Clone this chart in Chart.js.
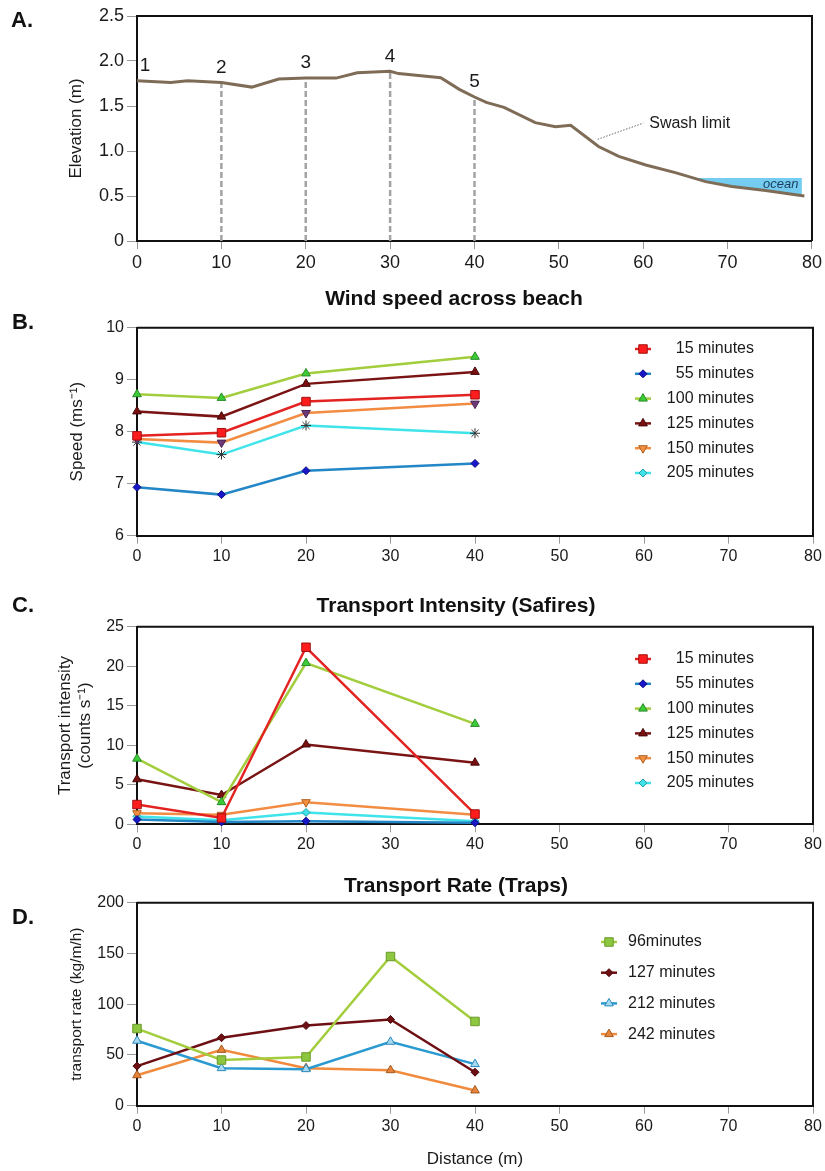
<!DOCTYPE html>
<html>
<head>
<meta charset="utf-8">
<script src="https://cdn.jsdelivr.net/npm/chart.js@4.4.1/dist/chart.umd.min.js"></script>
<style>
  body { margin: 0; background: #fff; }
  #wrap { position: relative; width: 825px; height: 1171px; }
  canvas { position: absolute; left: 0; }
</style>
</head>
<body>
<div id="wrap">
  <canvas id="chartA" width="825" height="280" style="top:0px"></canvas>
  <canvas id="chartB" width="825" height="290" style="top:280px"></canvas>
  <canvas id="chartC" width="825" height="278" style="top:580px"></canvas>
  <canvas id="chartD" width="825" height="301" style="top:870px"></canvas>
</div>
<script>
// Panel A - beach profile
const profileX = [0, 4, 6, 10, 13.6, 16.8, 20, 23.6, 26.1, 30, 31, 36, 38.2, 40, 41.4, 43.5, 47.2, 49.6, 51.4, 54.7, 57.1, 60.3, 63.8, 67.4, 70.5, 74.5, 79.1];
const profileY = [1.78, 1.76, 1.78, 1.76, 1.71, 1.80, 1.81, 1.81, 1.87, 1.885, 1.86, 1.815, 1.685, 1.60, 1.54, 1.485, 1.315, 1.27, 1.285, 1.05, 0.94, 0.845, 0.76, 0.66, 0.605, 0.56, 0.50];
const stationX = [0, 10, 20, 30, 40];
const stationY = [1.78, 1.76, 1.81, 1.885, 1.60];
const stationLabels = ['1', '2', '3', '4', '5'];
const oceanX = [66.2, 78.8];
const oceanLevel = 0.70;
const oceanEdgeY = 0.51;

// Panel B - wind speed
const windX = [0, 10, 20, 40];
const wind15 = [7.92, 7.98, 8.58, 8.71];
const wind55 = [6.93, 6.79, 7.25, 7.39];
const wind100 = [8.72, 8.65, 9.12, 9.44];
const wind125 = [8.39, 8.29, 8.92, 9.15];
const wind150 = [7.86, 7.79, 8.36, 8.54];
const wind205 = [7.80, 7.56, 8.12, 7.97];

// Panel C - transport intensity (safires)
const safX = [0, 10, 20, 40];
const saf15 = [2.5, 0.8, 22.4, 1.3];
const saf55 = [0.6, 0.3, 0.4, 0.2];
const saf100 = [8.3, 2.8, 20.4, 12.7];
const saf125 = [5.7, 3.7, 10.1, 7.8];
const saf150 = [1.4, 1.2, 2.8, 1.2];
const saf205 = [1.0, 0.5, 1.5, 0.4];
const minuteLabels = ['15 minutes', '55 minutes', '100 minutes', '125 minutes', '150 minutes', '205 minutes'];

// Panel D - transport rate (traps)
const trapX = [0, 10, 20, 30, 40];
const trap96 = [76, 45, 48, 147, 83];
const trap127 = [39, 67, 79, 85, 33];
const trap212 = [64, 37, 36, 63, 41];
const trap242 = [30, 55, 37, 35, 15];
const trapLabels = ['96minutes', '127 minutes', '212 minutes', '242 minutes'];

const FONT = "'Liberation Sans', Arial, sans-serif";
Chart.defaults.font.family = FONT;
Chart.defaults.color = '#1a1a1a';
Chart.defaults.animation = false;

const xy = (xs, ys) => xs.map((x, i) => ({ x: x, y: ys[i] }));

// estilos de series
const minuteStyles = [
  { line: '#e32322', fill: '#ff1c1c', border: '#a01010', style: 'rect', radius: 6 },
  { line: '#2386c6', fill: '#1818c8', border: '#0c0c80', style: 'rectRot', radius: 4 },
  { line: '#a2cd3c', fill: '#3ccc36', border: '#2a8a2a', style: 'triangle', radius: 5 },
  { line: '#7a1414', fill: '#7a1010', border: '#450808', style: 'triangle', radius: 5 },
  { line: '#f28c42', fill: '#f29040', border: '#b06020', style: 'triangle', rotation: 180, radius: 5 },
  { line: '#3fe3ea', fill: '#40e0e8', border: '#20a0a8', style: 'rectRot', radius: 4 }
];
const windMarkers = minuteStyles.map((s, i) => {
  if (i === 4) return Object.assign({}, s, { fill: '#6c3a78', border: '#4a2050' });
  if (i === 5) return Object.assign({}, s, { fill: '#444', border: '#333', style: 'star', radius: 5 });
  return s;
});
const trapStyles = [
  { line: '#a2cd3c', fill: '#8dc63f', border: '#6a9a2a', style: 'rect', radius: 6 },
  { line: '#6e0f14', fill: '#6e0f14', border: '#4a0808', style: 'rectRot', radius: 4 },
  { line: '#2a9ad0', fill: '#a6d8f2', border: '#2a8ab8', style: 'triangle', radius: 5 },
  { line: '#f08a3c', fill: '#e8843a', border: '#a05a20', style: 'triangle', radius: 5 }
];

function series(xs, ys, st) {
  return {
    data: xy(xs, ys),
    borderColor: st.line, borderWidth: 2.5,
    pointStyle: st.style, pointRadius: st.radius, pointRotation: st.rotation || 0,
    pointBackgroundColor: st.fill, pointBorderColor: st.border, pointBorderWidth: 1,
    tension: 0, fill: false, clip: false
  };
}

function xAxis(tickSize, height, title) {
  return {
    type: 'linear', min: 0, max: 80,
    ticks: { stepSize: 10, font: { size: tickSize }, padding: 3, maxRotation: 0, autoSkip: false },
    grid: { drawOnChartArea: false, drawTicks: true, tickLength: 8, color: '#9a9a9a' },
    border: { color: '#111', width: 2 },
    title: title || { display: false },
    afterFit: s => { s.height = height; }
  };
}

function yAxis(min, max, step, tickSize, title, fmt) {
  return {
    min: min, max: max,
    ticks: { stepSize: step, font: { size: tickSize }, padding: 3, callback: fmt || (v => v) },
    grid: { drawOnChartArea: false, drawTicks: true, tickLength: 10, color: '#9a9a9a' },
    border: { color: '#111', width: 2 },
    title: title,
    afterFit: s => { s.width = 137; }
  };
}

function frame(chart) {
  const a = chart.chartArea, ctx = chart.ctx;
  ctx.save();
  ctx.strokeStyle = '#111';
  ctx.lineWidth = 2;
  ctx.beginPath();
  ctx.moveTo(a.left, a.top);
  ctx.lineTo(a.right, a.top);
  ctx.lineTo(a.right, a.bottom);
  ctx.stroke();
  ctx.restore();
}

function label(ctx, str, x, y, font, align, color) {
  ctx.save();
  ctx.font = font;
  ctx.fillStyle = color || '#1a1a1a';
  ctx.textAlign = align || 'left';
  ctx.textBaseline = 'middle';
  ctx.fillText(str, x, y);
  ctx.restore();
}

function drawLegend(ctx, labels, styles, cfg) {
  labels.forEach((txt, i) => {
    const st = styles[i];
    const y = cfg.y0 + i * cfg.dy;
    ctx.save();
    ctx.strokeStyle = st.line;
    ctx.lineWidth = 2.5;
    ctx.beginPath();
    ctx.moveTo(cfg.mx - 8, y);
    ctx.lineTo(cfg.mx + 8, y);
    ctx.stroke();
    ctx.fillStyle = st.fill;
    ctx.strokeStyle = st.border;
    ctx.lineWidth = 1;
    Chart.helpers.drawPoint(ctx, { pointStyle: st.style, radius: st.radius, rotation: st.rotation || 0, borderWidth: 1 }, cfg.mx, y);
    ctx.restore();
    label(ctx, txt, cfg.tx, y, '16px ' + FONT, cfg.align);
  });
}

const baseOptions = (pad, scales) => ({
  responsive: false,
  layout: { padding: { top: pad, right: 12, left: 0, bottom: 0 } },
  scales: scales,
  plugins: { legend: { display: false }, tooltip: { enabled: false } }
});

// ---------- Panel A ----------
const oceanBottom = profileX
  .map((x, i) => ({ x: x, y: profileY[i] }))
  .filter(p => p.x > oceanX[0] && p.x < oceanX[1])
  .reverse();
const oceanShape = [
  { x: oceanX[0], y: oceanLevel },
  { x: oceanX[1], y: oceanLevel },
  { x: oceanX[1], y: oceanEdgeY }
].concat(oceanBottom);

const swashFrom = { x: 54.6, y: 1.13 };
const swashTo = { x: 60.0, y: 1.31 };

new Chart(document.getElementById('chartA'), {
  type: 'line',
  data: {
    datasets: [
      { data: xy(profileX, profileY), borderColor: '#7f6c57', borderWidth: 3, pointRadius: 0, tension: 0 },
      ...stationX.slice(1).map((x, i) => ({
        data: [{ x: x, y: 0 }, { x: x, y: stationY[i + 1] }],
        borderColor: '#a3a3a3', borderWidth: 2.5, borderDash: [6, 3], pointRadius: 0
      })),
      { data: [swashFrom, swashTo], borderColor: '#666', borderWidth: 1, borderDash: [1.5, 1.5], pointRadius: 0 },
      { data: oceanShape, fill: 'shape', backgroundColor: '#74cdf0', borderWidth: 0, pointRadius: 0 }
    ]
  },
  options: baseOptions(16, {
    x: xAxis(18, 39),
    y: yAxis(0, 2.5, 0.5, 18,
      { display: true, text: 'Elevation (m)', font: { size: 17 }, padding: { top: 66, bottom: 0 } },
      v => (v === 0 ? '0' : v.toFixed(1)))
  }),
  plugins: [{
    id: 'panelA',
    afterDraw(chart) {
      const ctx = chart.ctx, xs = chart.scales.x, ys = chart.scales.y;
      frame(chart);
      stationX.forEach((x, i) => {
        label(ctx, stationLabels[i], xs.getPixelForValue(x) + (i === 0 ? 8 : 0),
          ys.getPixelForValue(stationY[i]) - 15, '19px ' + FONT, 'center');
      });
      label(ctx, 'Swash limit', xs.getPixelForValue(swashTo.x) + 6, ys.getPixelForValue(swashTo.y), '16px ' + FONT, 'left');
      label(ctx, 'ocean', xs.getPixelForValue(76.3), ys.getPixelForValue(0.633), 'italic 13px ' + FONT, 'center', '#1d3b5c');
      label(ctx, 'A.', 11, 21, 'bold 22px ' + FONT, 'left', '#111');
    }
  }]
});

// ---------- Panel B ----------
const windSeries = [wind15, wind55, wind100, wind125, wind150, wind205];
new Chart(document.getElementById('chartB'), {
  type: 'line',
  data: { datasets: windSeries.map((ys, i) => series(windX, ys, windMarkers[i])) },
  options: baseOptions(47.7, {
    x: xAxis(16, 34.3),
    y: yAxis(6, 10, 1, 16,
      { display: true, text: 'Speed (ms\u207B\u00B9)', font: { size: 17 }, padding: { top: 67, bottom: 0 } })
  }),
  plugins: [{
    id: 'panelB',
    afterDraw(chart) {
      const ctx = chart.ctx;
      frame(chart);
      label(ctx, 'Wind speed across beach', 454, 19, 'bold 21px ' + FONT, 'center', '#111');
      label(ctx, 'B.', 12, 43, 'bold 22px ' + FONT, 'left', '#111');
      drawLegend(ctx, minuteLabels, minuteStyles, { y0: 69, dy: 24.8, mx: 643, tx: 754, align: 'right' });
    }
  }]
});

// ---------- Panel C ----------
const safSeries = [saf15, saf55, saf100, saf125, saf150, saf205];
new Chart(document.getElementById('chartC'), {
  type: 'line',
  data: { datasets: safSeries.map((ys, i) => series(safX, ys, minuteStyles[i])) },
  options: baseOptions(46.7, {
    x: xAxis(16, 33.7),
    y: yAxis(0, 25, 5, 16,
      { display: true, text: ['Transport intensity', '(counts s\u207B\u00B9)'], font: { size: 17 }, padding: { top: 55, bottom: 0 } })
  }),
  plugins: [{
    id: 'panelC',
    afterDraw(chart) {
      const ctx = chart.ctx;
      frame(chart);
      label(ctx, 'Transport Intensity (Safires)', 456, 26, 'bold 21px ' + FONT, 'center', '#111');
      label(ctx, 'C.', 12, 26, 'bold 22px ' + FONT, 'left', '#111');
      drawLegend(ctx, minuteLabels, minuteStyles, { y0: 79, dy: 24.8, mx: 643, tx: 754, align: 'right' });
    }
  }]
});

// ---------- Panel D ----------
const trapSeries = [trap96, trap127, trap212, trap242];
new Chart(document.getElementById('chartD'), {
  type: 'line',
  data: { datasets: trapSeries.map((ys, i) => series(trapX, ys, trapStyles[i])) },
  options: baseOptions(32.7, {
    x: xAxis(16, 65.3, { display: true, text: 'Distance (m)', font: { size: 17 }, padding: { top: 0, bottom: 1 } }),
    y: yAxis(0, 200, 50, 16,
      { display: true, text: 'transport rate (kg/m/h)', font: { size: 15.5 }, padding: { top: 67, bottom: 0 } })
  }),
  plugins: [{
    id: 'panelD',
    afterDraw(chart) {
      const ctx = chart.ctx;
      frame(chart);
      label(ctx, 'Transport Rate (Traps)', 456, 16, 'bold 21px ' + FONT, 'center', '#111');
      label(ctx, 'D.', 12, 48, 'bold 22px ' + FONT, 'left', '#111');
      drawLegend(ctx, trapLabels, trapStyles, { y0: 72, dy: 30.7, mx: 609, tx: 628, align: 'left' });
    }
  }]
});
</script>
</body>
</html>
